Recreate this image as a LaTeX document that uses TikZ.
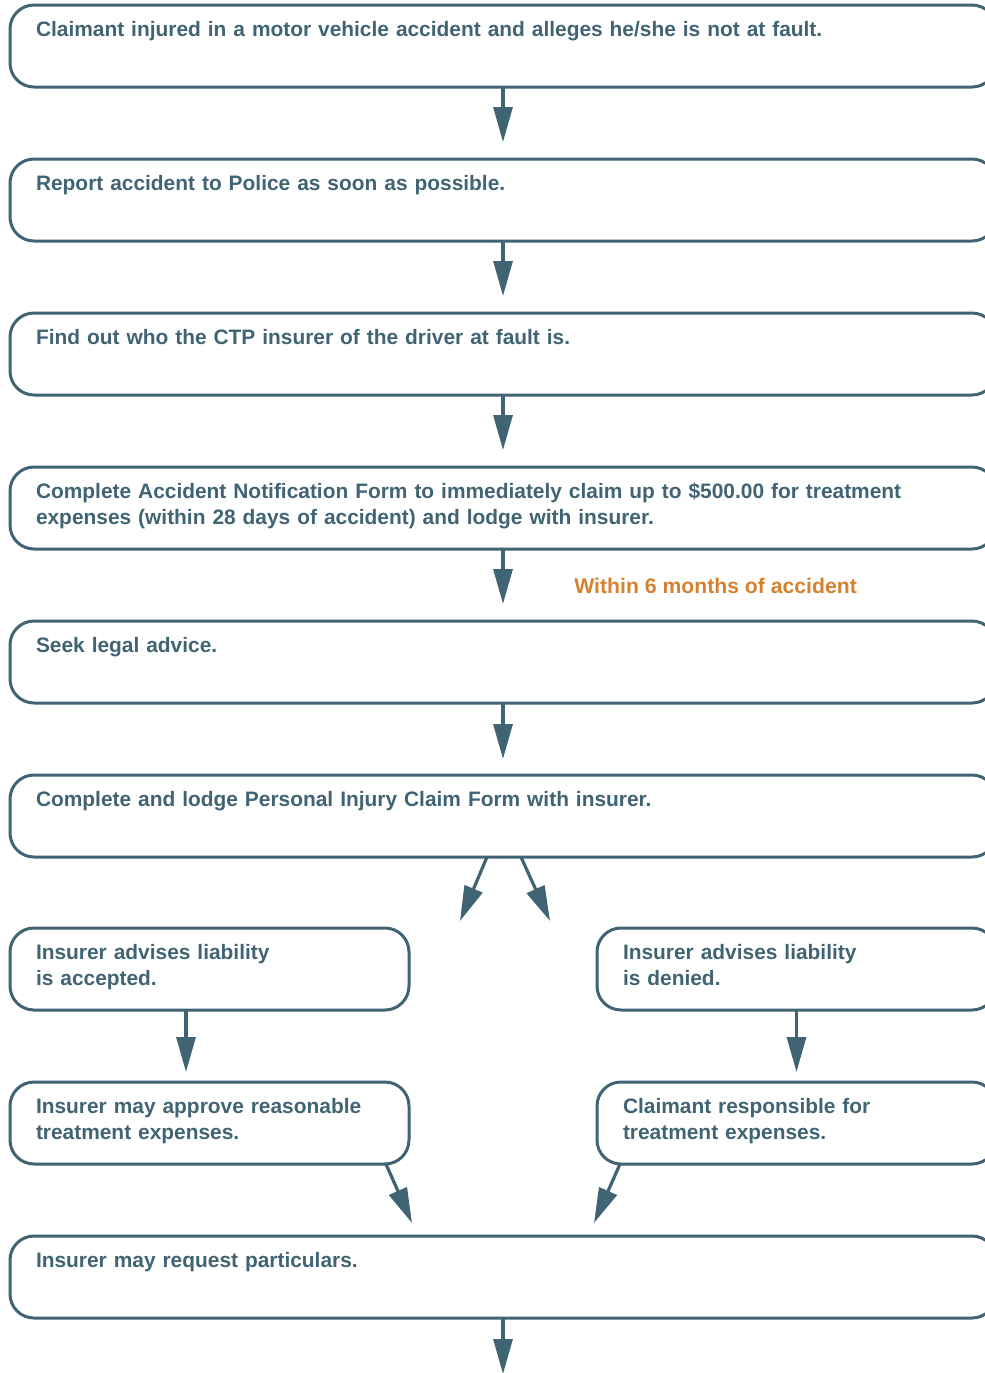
\documentclass[tikz,border=0pt]{standalone}
\usepackage{fontspec}
\setmainfont{Liberation Sans}
\usepackage{xcolor}
\usetikzlibrary{arrows.meta,positioning,calc}
\definecolor{slate}{HTML}{406474}
\definecolor{amber}{HTML}{D4822F}

\begin{document}
\begin{tikzpicture}[
  x=0.5pt, y=-0.5pt,
  stepbox/.style={rectangle, draw=slate, line width=1.5pt, rounded corners=12pt, anchor=north west,
    text=slate, font=\fontsize{10.45}{13}\selectfont\bfseries, align=left, outer sep=0pt,
    inner xsep=13pt, inner ysep=0pt, text width=467pt, text height=15.5pt, text depth=25.5pt},
  halfbox/.style={stepbox, text width=173.5pt},
  arr/.style={-{Triangle[length=17.5pt, width=9.5pt]}, draw=slate, line width=1.6pt},
  note/.style={text=amber, font=\fontsize{10.6}{13}\selectfont\bfseries, inner sep=0pt}
]
\useasboundingbox (0,0) rectangle (985,1373);

% Main column
\node[stepbox] (injury) at (10,5) {Claimant injured in a motor vehicle accident and alleges he/she is not at fault.};
\node[stepbox] (police) at (10,159) {Report accident to Police as soon as possible.};
\node[stepbox] (insurer) at (10,313) {Find out who the CTP insurer of the driver at fault is.};
\node[stepbox] (notify) at (10,467) {Complete Accident Notification Form to immediately claim up to \$500.00 for treatment\\expenses (within 28 days of accident) and lodge with insurer.};
\node[stepbox] (advice) at (10,621) {Seek legal advice.};
\node[stepbox] (lodge) at (10,775) {Complete and lodge Personal Injury Claim Form with insurer.};
\draw[arr] (injury.south) -- ([yshift=8.5pt]police.north);
\draw[arr] (police.south) -- ([yshift=8.5pt]insurer.north);
\draw[arr] (insurer.south) -- ([yshift=8.5pt]notify.north);
\draw[arr] (notify.south) -- ([yshift=8.5pt]advice.north);
\draw[arr] (advice.south) -- ([yshift=8pt]lodge.north);

% Time limit
\node[note, anchor=base west] (within) at (574,593) {Within 6 months of accident};

% Two branches
\node[halfbox] (accepted) at (10,928) {Insurer advises liability\\is accepted.};
\node[halfbox] (denied) at (597,928) {Insurer advises liability\\is denied.};
\draw[arr] ([xshift=-8pt]lodge.south) -- ([xshift=25.5pt,yshift=3.5pt]accepted.north east);
\draw[arr] ([xshift=9pt]lodge.south) -- ([xshift=-23.5pt,yshift=3.5pt]denied.north west);

\node[halfbox] (approve) at (10,1082) {Insurer may approve reasonable\\treatment expenses.};
\node[halfbox] (own) at (597,1082) {Claimant responsible for\\treatment expenses.};
\draw[arr] ([xshift=88pt]accepted.south west) -- ([xshift=88pt,yshift=5pt]approve.north west);
\draw[arr] (denied.south) -- ([yshift=5pt]own.north);

% Join again
\node[stepbox] (request) at (10,1236) {Insurer may request particulars.};
\draw[arr] ([xshift=-11.5pt]approve.south east) -- ([xshift=-45.5pt,yshift=6.5pt]request.north);
\draw[arr] ([xshift=11.5pt]own.south west) -- ([xshift=45.5pt,yshift=6.5pt]request.north);
\coordinate (next) at ([yshift=-28pt]request.south);
\draw[arr] (request.south) -- (next);

\end{tikzpicture}
\end{document}
